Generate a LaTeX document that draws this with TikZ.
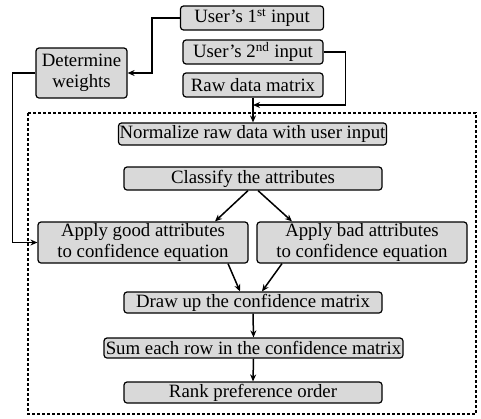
\documentclass[tikz,border=0pt]{standalone}
\usepackage{fontspec}
\setmainfont{Liberation Serif}
\usetikzlibrary{arrows.meta}
\begin{document}
\begin{tikzpicture}[x=1pt,y=-1pt,
  box/.style={draw, line width=1.2pt, rounded corners=3pt, fill=gray!30, inner sep=0pt, align=center, font=\fontsize{18.8}{21}\selectfont\rmfamily},
  arr/.style={line width=1.5pt, -{Stealth[length=7pt,width=6pt]}}]
\useasboundingbox (0,0) rectangle (481,418);
\draw[line width=1.3pt, dash pattern=on 3pt off 2pt] (28,113) rectangle (476,414);
\node[box, minimum width=143pt, minimum height=24pt] (u1) at (252,18) {User's 1\textsuperscript{st} input};
\node[box, minimum width=140pt, minimum height=24pt] (u2) at (253,52) {User's 2\textsuperscript{nd} input};
\node[box, minimum width=140pt, minimum height=24pt] (raw) at (253,85) {Raw data matrix};
\node[box, minimum width=91pt, minimum height=50pt] (det) at (81.5,73) {Determine\\weights};
\node[box, minimum width=268pt, minimum height=22pt] (norm) at (252.5,134) {Normalize raw data with user input};
\node[box, minimum width=258pt, minimum height=23pt] (cls) at (253,178.5) {Classify the attributes};
\node[box, minimum width=210pt, minimum height=41pt] (good) at (143,242.5) {Apply good attributes\\to confidence equation};
\node[box, minimum width=210pt, minimum height=41pt] (bad) at (362,242.5) {Apply bad attributes\\to confidence equation};
\node[box, minimum width=258pt, minimum height=21pt] (draw) at (253,302.5) {Draw up the confidence matrix};
\node[box, minimum width=299pt, minimum height=20pt] (sum) at (253.5,348) {Sum each row in the confidence matrix};
\node[box, minimum width=258pt, minimum height=21pt] (rank) at (253,392.5) {Rank preference order};
\coordinate (j) at (raw.south |- 0,105);
\draw[arr] (u1.west) -- ++(-28,0) |- (det.east);
\draw[arr] (u2.east) -- ++(22,0) |- (j);
\draw[arr] (raw.south) -- (raw.south |- norm.north);
\draw[arr] (det.west) -- ++(-23,0) |- (good.west);
\draw[arr] ([xshift=-5pt]cls.south) -- ([xshift=72pt]good.north);
\draw[arr] ([xshift=5pt]cls.south) -- ([xshift=-70pt]bad.north);
\draw[arr] ([xshift=85pt]good.south) -- ([xshift=-13pt]draw.north);
\draw[arr] ([xshift=-80pt]bad.south) -- ([xshift=9pt]draw.north);
\draw[arr] (draw.south) -- (sum.north);
\draw[arr] (sum.south) -- (rank.north);
\end{tikzpicture}
\end{document}
